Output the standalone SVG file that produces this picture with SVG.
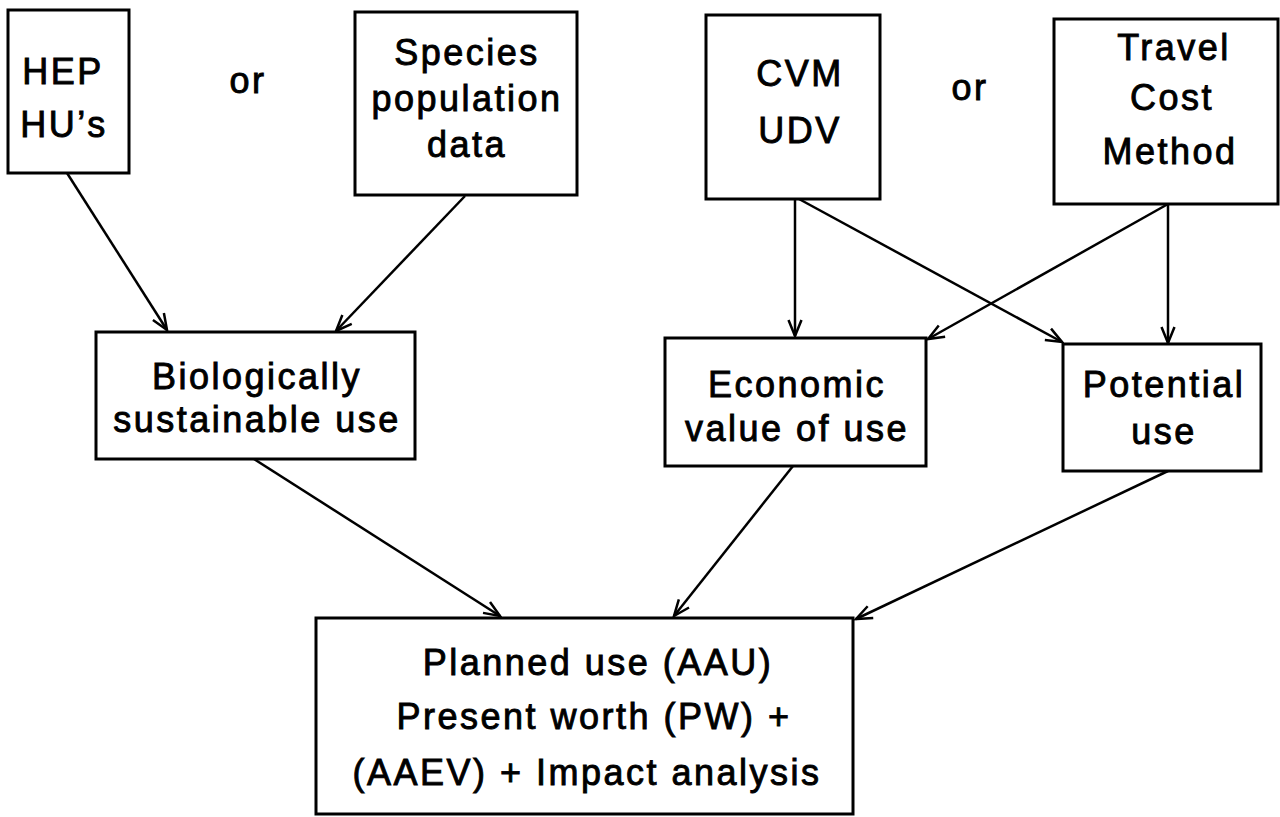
<svg xmlns="http://www.w3.org/2000/svg" width="1280" height="817" viewBox="0 0 1280 817">
<defs>
<style>
.box{fill:#fff;stroke:#000;stroke-width:3}
.t{font-family:"Liberation Sans",Arial,sans-serif;font-size:36px;fill:#000;stroke:#000;stroke-width:0.9;text-anchor:middle;letter-spacing:2.5px}
.c{fill:none;stroke:#000;stroke-width:2.5}
</style>
<marker id="ah" viewBox="0 0 20 16" refX="18" refY="8" markerWidth="20" markerHeight="16" markerUnits="userSpaceOnUse" orient="auto">
<path d="M2,1.5 L18,8 L2,14.5" fill="none" stroke="#000" stroke-width="2.5"/>
</marker>
</defs>
<rect width="1280" height="817" fill="#fff"/>
<g id="connectors">
<line class="c" x1="67" y1="173" x2="167" y2="330" marker-end="url(#ah)"/>
<line class="c" x1="465" y1="196" x2="336" y2="331" marker-end="url(#ah)"/>
<line class="c" x1="795" y1="199" x2="795" y2="336" marker-end="url(#ah)"/>
<line class="c" x1="799" y1="199" x2="1062" y2="342" marker-end="url(#ah)"/>
<line class="c" x1="1168" y1="204" x2="928" y2="339" marker-end="url(#ah)"/>
<line class="c" x1="1168" y1="204" x2="1168" y2="343" marker-end="url(#ah)"/>
<line class="c" x1="254" y1="459" x2="500" y2="616" marker-end="url(#ah)"/>
<line class="c" x1="793" y1="466" x2="674" y2="616" marker-end="url(#ah)"/>
<line class="c" x1="1168" y1="471" x2="856" y2="619" marker-end="url(#ah)"/>
</g>
<g id="hep">
<rect class="box" x="8" y="10" width="121" height="163"/>
<text class="t" x="63" y="84">HEP</text>
<text class="t" x="64" y="137">HU’s</text>
</g>
<g id="or1"><text class="t" x="248" y="93">or</text></g>
<g id="species">
<rect class="box" x="355" y="12" width="222" height="183"/>
<text class="t" x="467" y="65">Species</text>
<text class="t" x="467" y="111">population</text>
<text class="t" x="467" y="157">data</text>
</g>
<g id="cvm">
<rect class="box" x="706" y="15" width="174" height="184"/>
<text class="t" x="800" y="86">CVM</text>
<text class="t" x="800" y="143">UDV</text>
</g>
<g id="or2"><text class="t" x="970" y="100">or</text></g>
<g id="travel">
<rect class="box" x="1054" y="19" width="224" height="185"/>
<text class="t" x="1174" y="60">Travel</text>
<text class="t" x="1172" y="110">Cost</text>
<text class="t" x="1170" y="164">Method</text>
</g>
<g id="bio">
<rect class="box" x="96" y="332" width="319" height="127"/>
<text class="t" x="257" y="389">Biologically</text>
<text class="t" x="257" y="432">sustainable use</text>
</g>
<g id="econ">
<rect class="box" x="665" y="338" width="261" height="128"/>
<text class="t" x="797" y="397">Economic</text>
<text class="t" x="797" y="441">value of use</text>
</g>
<g id="potential">
<rect class="box" x="1063" y="344" width="198" height="127"/>
<text class="t" x="1164" y="397">Potential</text>
<text class="t" x="1164" y="444">use</text>
</g>
<g id="planned">
<rect class="box" x="316" y="618" width="537" height="196"/>
<text class="t" x="598" y="675">Planned use (AAU)</text>
<text class="t" x="594" y="729">Present worth (PW) +</text>
<text class="t" x="587" y="785">(AAEV) + Impact analysis</text>
</g>
</svg>
